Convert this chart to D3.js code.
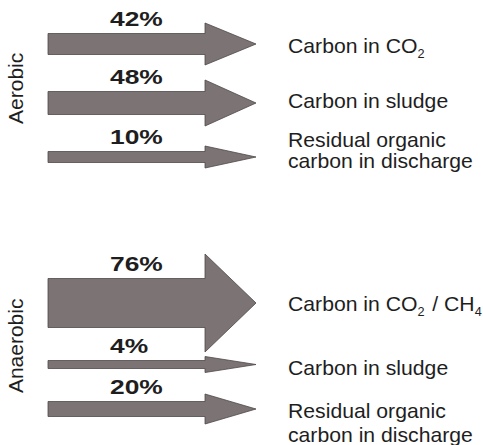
<!DOCTYPE html>
<html><head><meta charset="utf-8">
<script src="https://cdn.jsdelivr.net/npm/d3@7"></script>
<style>html,body{margin:0;padding:0;background:#fff;}</style>
</head><body><svg id="c" width="483" height="445"></svg>
<script>
// ---- data ----
const groups = ["Aerobic", "Anaerobic"];
const aerobicValues = [42, 48, 10];
const anaerobicValues = [76, 4, 20];
const aerobicLabels = [["Carbon in CO", {sub: "2"}], ["Carbon in sludge"], ["Residual organic", "\n", "carbon in discharge"]];
const anaerobicLabels = [["Carbon in CO", {sub: "2"}, " / CH", {sub: "4"}], ["Carbon in sludge"], ["Residual organic", "\n", "carbon in discharge"]];

// ---- layout (not data) ----
const svg = d3.select("#c");
const arrowFill = "#7c7474", arrowStroke = "#4e4848", textCol = "#1e1e1e";
const FONT = "Liberation Sans, Arial, sans-serif";
const x = d3.scaleLinear().domain([0, 1]).range([48, 205]);   // body extent
const headLen = 51;
// thickness scale (diagram is not strictly proportional)
const thick = d3.scaleLinear().domain([4, 10, 20, 42, 48, 76]).range([8, 11, 15, 21, 23, 49]);
const labelBlock = 21.5;
const layout = {
  Aerobic:   {start: 12,  gap: 15.5, descOffset: [9, 5, -10], lineH: 20.5},
  Anaerobic: {start: 257, gap: 11.5, descOffset: [8, 10, 9],  lineH: 23.5}
};

const data = groups.map((g, gi) => ({
  group: g,
  values: gi === 0 ? aerobicValues : anaerobicValues,
  labels: gi === 0 ? aerobicLabels : anaerobicLabels
}));

data.forEach(g => {
  const L = layout[g.group];
  let top = L.start;
  const rows = g.values.map((v, i) => {
    const t = thick(v);
    const bodyTop = top + labelBlock;
    const cy = bodyTop + t / 2;
    top = bodyTop + t + L.gap;
    return {v, t, cy, labelTop: bodyTop - labelBlock, desc: g.labels[i], off: L.descOffset[i]};
  });
  const G = svg.append("g");
  // arrows
  G.selectAll("path.arrow").data(rows).join("path")
    .attr("class", "arrow")
    .attr("fill", arrowFill).attr("stroke", arrowStroke).attr("stroke-width", 0.8)
    .attr("d", d => {
      const x0 = x(0), x1 = x(1), tip = x1 + headLen, h = d.t / 2;
      return `M${x0},${d.cy - h}L${x1},${d.cy - h}L${x1},${d.cy - d.t}L${tip},${d.cy}L${x1},${d.cy + d.t}L${x1},${d.cy + h}L${x0},${d.cy + h}Z`;
    });
  // percent labels
  G.selectAll("text.pct").data(rows).join("text")
    .attr("class", "pct")
    .attr("font-family", FONT)
    .attr("font-weight", "bold").attr("font-size", 20).attr("fill", textCol)
    .attr("transform", d => `translate(110,${d.labelTop + 14}) scale(1.32,1)`)
    .text(d => d.v + "%");
  // right descriptions
  rows.forEach(r => {
    const lines = [];
    let cur = [];
    r.desc.forEach(p => { if (p === "\n") { lines.push(cur); cur = []; } else cur.push(p); });
    lines.push(cur);
    const baseY = r.cy + r.off;
    lines.forEach((ln, li) => {
      const tx = G.append("text")
        .attr("font-family", FONT)
        .attr("font-size", 20).attr("fill", textCol)
        .attr("transform", `translate(288,${baseY + li * L.lineH}) scale(1.06,1)`);
      ln.forEach(p => {
        if (typeof p === "string") tx.append("tspan").text(p);
        else {
          tx.append("tspan").attr("font-size", 12).attr("dy", 5).text(p.sub);
          tx.append("tspan").attr("font-size", 20).attr("dy", -5).text("\u200A");
        }
      });
    });
  });
  // group label
  const yMid = d3.mean(rows, r => r.cy) - 13;
  G.append("text")
    .attr("font-family", FONT)
    .attr("font-size", 21).attr("fill", textCol)
    .attr("text-anchor", "middle")
    .attr("transform", `translate(23,${yMid}) rotate(-90)`)
    .text(g.group);
});
</script></body></html>
